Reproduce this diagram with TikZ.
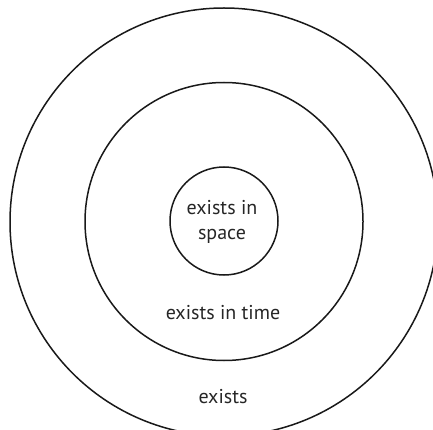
\documentclass[tikz,border=0pt]{standalone}
\usepackage{fontspec}
\setmainfont{PT Sans}
\begin{document}
\begin{tikzpicture}[x=1pt,y=-1pt,
  ring/.style={draw=black!90,line width=1.5pt,circle,inner sep=0pt},
  lbl/.style={font=\fontsize{20}{25}\selectfont,text=black!85,align=center}]
\useasboundingbox (0,0) rectangle (433,430);
\clip (0,0) rectangle (433,430);
\node[ring,minimum size=428pt] (outer) at (224,222) {};
\node[ring,minimum size=278pt] (middle) at (224,221.5) {};
\node[ring,minimum size=108pt] (inner) at (224,221) {};
\node[lbl] (space) at (222,221.5) {exists in\\space};
\node[lbl] (time) at (223,313) {exists in time};
\node[lbl] (ex) at (223,397) {exists};
\end{tikzpicture}
\end{document}
